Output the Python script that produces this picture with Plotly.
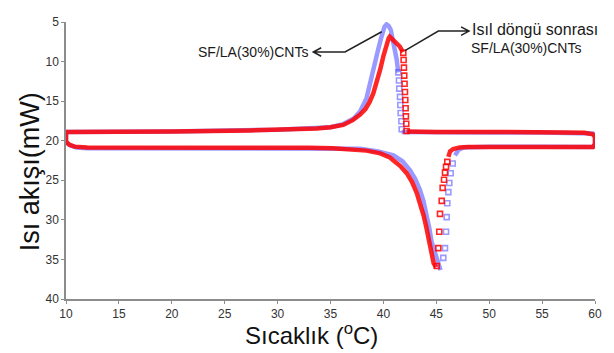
import plotly.graph_objects as go

# ---- data (x = temperature °C, y = heat flow mW) ----
# red: after thermal cycling; blue: SF/LA(30%)CNTs
red_line_x = [41.85, 41.55, 41.1, 40.8, 40.6, 40.5, 40.3, 40.0, 39.7, 39.4, 39.05, 38.7, 38.3, 37.8, 37.1, 36.2, 35.0, 33.7, 30.0, 27.4, 20.0, 15.0, 10.0,
              10.0, 10.0, 10.3, 10.8, 12.0, 15.0, 20.0, 25.0, 30.0, 33.0, 35.2, 37.0, 38.4, 39.7, 40.6, 40.95, 41.6, 42.2, 42.7, 43.15, 43.5, 43.8, 44.05, 44.25, 44.4, 44.55, 44.75, 44.9, 45.0,
              None,
              46.14, 46.3, 46.6, 47.2, 48.0, 50.0, 55.0, 59.0, 59.8, 60.0, 60.0, 59.8, 59.0, 57.0, 55.0, 50.0, 45.0, 43.0, 42.2]
red_line_y = [8.8, 8.1, 7.5, 7.1, 6.85, 7.05, 7.8, 9.3, 11.0, 12.6, 14.0, 15.1, 16.0, 16.7, 17.4, 18.0, 18.3, 18.45, 18.6, 18.7, 18.85, 18.9, 18.9,
              19.5, 20.1, 20.5, 20.75, 20.85, 20.85, 20.85, 20.8, 20.85, 20.9, 20.95, 21.1, 21.25, 21.6, 22.1, 22.5, 23.2, 24.1, 25.2, 26.6, 28.0, 29.45, 30.9, 32.3, 33.6, 34.8, 35.5, 35.8, 36.0,
              None,
              22.05, 21.35, 21.05, 20.85, 20.8, 20.8, 20.8, 20.8, 20.8, 20.4, 19.5, 19.2, 19.0, 18.95, 18.9, 18.9, 18.9, 18.85, 18.85]
red_dot_x = [41.88, 41.91, 41.94, 41.97, 42.0, 42.04, 42.07, 42.1, 42.13, 42.16, 42.19,
             45.04, 45.19, 45.28, 45.35, 45.51, 45.6, 45.73, 45.82, 45.92, 46.04]
red_dot_y = [8.9, 9.81, 10.76, 11.78, 12.81, 13.84, 14.86, 15.89, 16.92, 17.86, 18.77,
             35.83, 33.57, 31.51, 29.25, 27.6, 25.96, 24.94, 24.03, 23.29, 22.67]

blue_line_x = [41.41, 41.25, 40.95, 40.7, 40.5, 40.3, 40.1, 40.0, 39.75, 39.5, 39.25, 39.05, 38.7, 38.4, 37.8, 37.2, 36.2, 35.0, 30.0, 20.0, 10.0,
               10.0, 10.4, 11.0, 12.0, 20.0, 30.0, 35.0, 37.8, 39.5, 40.95, 41.8, 42.5, 43.0, 43.45, 43.8, 44.1, 44.35, 44.55, 44.8, 45.0, 45.15, 45.3, 45.4,
               None,
               46.77, 47.1, 47.6, 50.0, 55.0, 59.8, 60.0, 60.0, 59.8, 55.0, 50.0, 45.0, 42.5, 41.73]
blue_line_y = [11.37, 9.7, 7.7, 6.0, 5.5, 5.3, 5.6, 6.0, 7.2, 8.5, 10.0, 11.4, 13.2, 14.65, 16.3, 17.2, 17.9, 18.3, 18.6, 18.85, 18.9,
               20.2, 20.6, 20.85, 20.95, 21.0, 20.95, 21.0, 21.0, 21.35, 21.85, 22.6, 23.7, 24.8, 26.2, 27.7, 29.45, 31.1, 32.75, 33.9, 34.8, 35.3, 35.8, 36.35,
               None,
               21.86, 21.15, 20.85, 20.75, 20.75, 20.8, 20.4, 19.4, 19.1, 18.95, 18.95, 18.95, 18.95, 18.9]
blue_dot_x = [41.41, 41.47, 41.5, 41.57, 41.6, 41.63, 41.7, 41.73,
              45.66, 45.82, 45.92, 45.98, 46.04, 46.14, 46.23, 46.36, 46.55]
blue_dot_y = [11.37, 12.4, 13.42, 14.46, 15.48, 16.5, 17.54, 18.56,
              34.8, 33.57, 31.51, 29.66, 27.9, 26.49, 25.35, 24.11, 22.88]

x_ticks = [10, 15, 20, 25, 30, 35, 40, 45, 50, 55, 60]
y_ticks = [5, 10, 15, 20, 25, 30, 35, 40]

label_left = "SF/LA(30%)CNTs"
label_right_1 = "Isıl döngü sonrası"
label_right_2 = "SF/LA(30%)CNTs"

BLUE = "rgba(70,70,255,0.55)"
RED = "rgba(255,0,0,0.85)"
FONT = "Liberation Sans, Arial"

fig = go.Figure()
fig.add_trace(go.Scatter(x=blue_line_x, y=blue_line_y, mode="lines",
                         line=dict(color=BLUE, width=4.5), showlegend=False, hoverinfo="skip"))
fig.add_trace(go.Scatter(x=blue_dot_x, y=blue_dot_y, mode="markers",
                         marker=dict(symbol="square-open", size=5, color=BLUE, line=dict(width=1.6, color=BLUE)),
                         showlegend=False, hoverinfo="skip"))
fig.add_trace(go.Scatter(x=red_line_x, y=red_line_y, mode="lines",
                         line=dict(color=RED, width=4.5), showlegend=False, hoverinfo="skip"))
fig.add_trace(go.Scatter(x=red_dot_x, y=red_dot_y, mode="markers",
                         marker=dict(symbol="square-open", size=5, color=RED, line=dict(width=1.6, color=RED)),
                         showlegend=False, hoverinfo="skip"))

ARROW = "#222222"
# callout arrows (polyline + open chevron head), in axis coordinates
fig.add_shape(type="path", xref="x", yref="y",
              path="M39.84,6.23 L36.37,8.79 L33.37,8.79 M34.12,8.25 L33.37,8.79 L34.12,9.33",
              line=dict(color=ARROW, width=1.5))
fig.add_shape(type="path", xref="x", yref="y",
              path="M42.04,8.61 L45.19,6.15 L48.09,6.15 M47.34,5.61 L48.09,6.15 L47.34,6.69",
              line=dict(color=ARROW, width=1.5))

fig.add_annotation(x=33.05, y=8.75, xref="x", yref="y", text=label_left, showarrow=False,
                   xanchor="right", yanchor="middle", font=dict(family=FONT, size=14, color="#1a1a1a"))
fig.add_annotation(x=48.2, y=6.0, xref="x", yref="y", text=label_right_1, showarrow=False,
                   xanchor="left", yanchor="middle", font=dict(family=FONT, size=16, color="#1a1a1a"))
fig.add_annotation(x=48.1, y=8.3, xref="x", yref="y", text=label_right_2, showarrow=False,
                   xanchor="left", yanchor="middle", font=dict(family=FONT, size=14, color="#1a1a1a"))

# axis titles
fig.add_annotation(x=0.465, y=-0.127, xref="paper", yref="paper", text="Sıcaklık (<sup>o</sup>C)",
                   showarrow=False, xanchor="center", yanchor="middle",
                   font=dict(family=FONT, size=24, color="#111111"))
fig.add_annotation(x=-0.068, y=0.458, xref="paper", yref="paper", text="Isı akışı(mW)",
                   showarrow=False, textangle=-90, xanchor="center", yanchor="middle",
                   font=dict(family=FONT, size=27, color="#111111"))

axis_common = dict(showgrid=False, zeroline=False, showline=True, linecolor="#8c8c8c", linewidth=1.5,
                   ticks="outside", ticklen=3, tickcolor="#8c8c8c", tickwidth=1,
                   tickfont=dict(family=FONT, size=12, color="#333333"))
fig.update_xaxes(range=[10, 60], tickvals=x_ticks, **axis_common)
fig.update_yaxes(range=[40, 5], tickvals=y_ticks, **axis_common)

# page body adds an 8px margin, so the figure is 8px smaller and margins shifted
fig.update_layout(width=606, height=345, autosize=False,
                  margin=dict(l=58, r=19, t=7, b=54),
                  plot_bgcolor="white", paper_bgcolor="white")

fig.write_html("out.html")
